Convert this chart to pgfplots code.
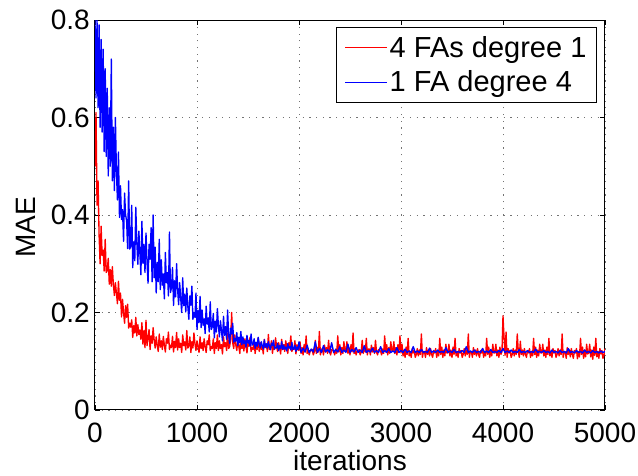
\documentclass[border=0pt]{standalone}
\usepackage{fontspec}
\setmainfont{Liberation Sans}
\usepackage{pgfplots}
\pgfplotsset{compat=1.18}
\begin{document}
\begin{tikzpicture}
\useasboundingbox (-95pt,-66pt) rectangle (543pt,410pt);
\begin{axis}[
  at={(0pt,0pt)}, anchor=south west,
  scale only axis, width=510pt, height=390pt,
  xmin=0, xmax=5000, ymin=0, ymax=0.8,
  xtick={0,1000,2000,3000,4000,5000}, ytick={0,0.2,0.4,0.6,0.8},
  scaled ticks=false,
  /pgf/number format/1000 sep={},
  /pgf/number format/assume math mode=true,
  tick align=inside, major tick length=5pt,
  tick style={black, line width=0.8pt},
  axis line style={line width=1pt},
  grid=major,
  major grid style={black!55, line width=0.8pt, dash pattern=on 1.2pt off 5.5pt},
  ticklabel style={font=\fontsize{28}{32}\selectfont, inner sep=0pt},
  xticklabel style={anchor=north, yshift=-13pt},
  yticklabel style={anchor=east, xshift=-5pt},
  label style={font=\fontsize{28}{32}\selectfont},
  xlabel={iterations}, ylabel={MAE},
  xlabel style={at={(axis description cs:0.5,-0.154)}, anchor=base, inner sep=0pt},
  ylabel style={at={(axis description cs:-0.135,0.469)}, anchor=center},
  legend style={at={(axis description cs:0.984,0.982)}, anchor=north east, draw=black, line width=0.8pt,
    font=\fontsize{29}{33}\selectfont, inner xsep=8pt, inner ysep=5pt, row sep=4.5pt,
    nodes={inner xsep=2pt, inner ysep=3.8pt}, cells={anchor=west}},
  legend image code/.code={\draw[#1, line width=1pt] (0pt,0pt) -- (42pt,0pt);},
]
\addplot[draw=red, line width=1.35pt, line join=round] coordinates {
(0,0.50) (10,0.61) (20,0.42) (30,0.47) (40,0.36) (50,0.30) (60,0.377) (70,0.317) (80,0.328) (90,0.285)
(100,0.35) (110,0.282) (120,0.286) (130,0.311) (140,0.258) (150,0.288) (160,0.254) (170,0.294) (180,0.258) (190,0.235)
(200,0.261) (210,0.240) (220,0.218) (230,0.264) (240,0.225) (250,0.240) (260,0.191) (270,0.227) (280,0.20) (290,0.178)
(300,0.214) (310,0.19) (320,0.217) (330,0.168) (340,0.178) (350,0.17) (360,0.185) (370,0.149) (380,0.173) (390,0.158)
(400,0.19) (410,0.152) (420,0.175) (430,0.155) (440,0.164) (450,0.145) (460,0.179) (470,0.135) (480,0.163) (490,0.128)
(500,0.184) (510,0.132) (520,0.147) (530,0.165) (540,0.124) (550,0.152) (560,0.137) (570,0.169) (580,0.143) (590,0.127)
(600,0.15) (610,0.133) (620,0.12) (630,0.156) (640,0.129) (650,0.142) (660,0.124) (670,0.151) (680,0.133) (690,0.119)
(700,0.146) (710,0.137) (720,0.16) (730,0.124) (740,0.133) (750,0.128) (760,0.151) (770,0.119) (780,0.141) (790,0.128)
(800,0.159) (810,0.123) (820,0.146) (830,0.128) (840,0.137) (850,0.118) (860,0.154) (870,0.132) (880,0.14) (890,0.123)
(900,0.163) (910,0.127) (920,0.131) (930,0.15) (940,0.118) (950,0.14) (960,0.127) (970,0.158) (980,0.136) (990,0.122)
(1000,0.142) (1010,0.130) (1020,0.118) (1030,0.150) (1040,0.126) (1050,0.138) (1060,0.122) (1070,0.146) (1080,0.130) (1090,0.118)
(1100,0.142) (1110,0.134) (1120,0.154) (1130,0.122) (1140,0.130) (1150,0.126) (1160,0.146) (1170,0.116) (1180,0.138) (1190,0.126)
(1200,0.154) (1210,0.122) (1220,0.142) (1230,0.126) (1240,0.134) (1250,0.115) (1260,0.150) (1270,0.130) (1280,0.138) (1290,0.122)
(1300,0.158) (1310,0.126) (1320,0.130) (1330,0.146) (1340,0.200) (1350,0.138) (1360,0.126) (1370,0.154) (1380,0.134) (1390,0.122)
(1400,0.142) (1410,0.130) (1420,0.116) (1430,0.150) (1440,0.126) (1450,0.138) (1460,0.121) (1470,0.146) (1480,0.130) (1490,0.117)
(1500,0.138) (1510,0.131) (1520,0.149) (1530,0.120) (1540,0.128) (1550,0.124) (1560,0.142) (1570,0.116) (1580,0.134) (1590,0.124)
(1600,0.148) (1610,0.120) (1620,0.138) (1630,0.124) (1640,0.131) (1650,0.115) (1660,0.145) (1670,0.128) (1680,0.134) (1690,0.120)
(1700,0.155) (1710,0.124) (1720,0.128) (1730,0.142) (1740,0.116) (1750,0.134) (1760,0.124) (1770,0.148) (1780,0.131) (1790,0.120)
(1800,0.138) (1810,0.128) (1820,0.115) (1830,0.145) (1840,0.124) (1850,0.134) (1860,0.120) (1870,0.142) (1880,0.128) (1890,0.116)
(1900,0.138) (1910,0.131) (1920,0.152) (1930,0.120) (1940,0.128) (1950,0.124) (1960,0.142) (1970,0.115) (1980,0.134) (1990,0.124)
(2000,0.122) (2010,0.140) (2020,0.116) (2030,0.128) (2040,0.113) (2050,0.134) (2060,0.119) (2070,0.152) (2080,0.116) (2090,0.125)
(2100,0.113) (2110,0.121) (2120,0.122) (2130,0.124) (2140,0.113) (2150,0.119) (2160,0.143) (2170,0.116) (2180,0.128) (2190,0.119)
(2200,0.161) (2210,0.113) (2220,0.125) (2230,0.125) (2240,0.113) (2250,0.133) (2260,0.119) (2270,0.128) (2280,0.116) (2290,0.143)
(2300,0.119) (2310,0.113) (2320,0.124) (2330,0.122) (2340,0.121) (2350,0.113) (2360,0.125) (2370,0.116) (2380,0.152) (2390,0.119)
(2400,0.134) (2410,0.113) (2420,0.128) (2430,0.116) (2440,0.140) (2450,0.122) (2460,0.122) (2470,0.140) (2480,0.116) (2490,0.128)
(2500,0.113) (2510,0.134) (2520,0.119) (2530,0.158) (2540,0.116) (2550,0.125) (2560,0.113) (2570,0.121) (2580,0.122) (2590,0.124)
(2600,0.113) (2610,0.119) (2620,0.143) (2630,0.116) (2640,0.128) (2650,0.119) (2660,0.147) (2670,0.113) (2680,0.125) (2690,0.125)
(2700,0.113) (2710,0.133) (2720,0.119) (2730,0.128) (2740,0.116) (2750,0.143) (2760,0.119) (2770,0.113) (2780,0.124) (2790,0.122)
(2800,0.121) (2810,0.113) (2820,0.125) (2830,0.116) (2840,0.152) (2850,0.119) (2860,0.134) (2870,0.113) (2880,0.128) (2890,0.116)
(2900,0.140) (2910,0.122) (2920,0.122) (2930,0.140) (2940,0.116) (2950,0.128) (2960,0.113) (2970,0.134) (2980,0.119) (2990,0.152)
(3000,0.117) (3010,0.135) (3020,0.111) (3030,0.123) (3040,0.108) (3050,0.129) (3060,0.114) (3070,0.147) (3080,0.111) (3090,0.120)
(3100,0.108) (3110,0.126) (3120,0.117) (3130,0.122) (3140,0.108) (3150,0.114) (3160,0.126) (3170,0.111) (3180,0.123) (3190,0.114)
(3200,0.156) (3210,0.108) (3220,0.120) (3230,0.120) (3240,0.108) (3250,0.128) (3260,0.114) (3270,0.123) (3280,0.111) (3290,0.126)
(3300,0.114) (3310,0.108) (3320,0.122) (3330,0.117) (3340,0.126) (3350,0.108) (3360,0.120) (3370,0.111) (3380,0.147) (3390,0.114)
(3400,0.129) (3410,0.108) (3420,0.123) (3430,0.111) (3440,0.135) (3450,0.117) (3460,0.117) (3470,0.135) (3480,0.111) (3490,0.123)
(3500,0.108) (3510,0.129) (3520,0.114) (3530,0.147) (3540,0.111) (3550,0.120) (3560,0.108) (3570,0.126) (3580,0.117) (3590,0.122)
(3600,0.108) (3610,0.114) (3620,0.126) (3630,0.111) (3640,0.123) (3650,0.114) (3660,0.156) (3670,0.108) (3680,0.120) (3690,0.120)
(3700,0.108) (3710,0.128) (3720,0.114) (3730,0.123) (3740,0.111) (3750,0.126) (3760,0.114) (3770,0.108) (3780,0.122) (3790,0.117)
(3800,0.126) (3810,0.108) (3820,0.120) (3830,0.111) (3840,0.147) (3850,0.114) (3860,0.129) (3870,0.108) (3880,0.123) (3890,0.111)
(3900,0.135) (3910,0.117) (3920,0.117) (3930,0.135) (3940,0.111) (3950,0.123) (3960,0.108) (3970,0.129) (3980,0.114) (3990,0.120)
(4000,0.193) (4010,0.150) (4020,0.112) (4030,0.160) (4040,0.108) (4050,0.126) (4060,0.117) (4070,0.122) (4080,0.108) (4090,0.114)
(4100,0.126) (4110,0.111) (4120,0.123) (4130,0.114) (4140,0.156) (4150,0.120) (4160,0.108) (4170,0.141) (4180,0.114) (4190,0.123)
(4200,0.111) (4210,0.126) (4220,0.114) (4230,0.108) (4240,0.122) (4250,0.117) (4260,0.126) (4270,0.108) (4280,0.120) (4290,0.111)
(4300,0.147) (4310,0.114) (4320,0.129) (4330,0.108) (4340,0.123) (4350,0.111) (4360,0.135) (4370,0.117) (4380,0.117) (4390,0.135)
(4400,0.111) (4410,0.123) (4420,0.108) (4430,0.129) (4440,0.114) (4450,0.147) (4460,0.111) (4470,0.120) (4480,0.108) (4490,0.126)
(4500,0.117) (4510,0.122) (4520,0.108) (4530,0.114) (4540,0.126) (4550,0.111) (4560,0.123) (4570,0.114) (4580,0.156) (4590,0.108)
(4600,0.120) (4610,0.120) (4620,0.106) (4630,0.128) (4640,0.114) (4650,0.123) (4660,0.109) (4670,0.126) (4680,0.114) (4690,0.106)
(4700,0.122) (4710,0.117) (4720,0.126) (4730,0.105) (4740,0.120) (4750,0.109) (4760,0.147) (4770,0.114) (4780,0.129) (4790,0.106)
(4800,0.123) (4810,0.109) (4820,0.135) (4830,0.115) (4840,0.117) (4850,0.135) (4860,0.109) (4870,0.123) (4880,0.104) (4890,0.129)
(4900,0.112) (4910,0.147) (4920,0.109) (4930,0.120) (4940,0.106) (4950,0.126) (4960,0.115) (4970,0.122) (4980,0.106) (4990,0.112)
(5000,0.126)
};
\addlegendentry{4 FAs degree 1}
\addplot[draw=blue, line width=1.35pt, line join=round] coordinates {
(0,0.80) (10,0.64) (20,0.80) (30,0.62) (40,0.79) (50,0.58) (60,0.76) (70,0.57) (80,0.74) (90,0.53)
(100,0.70) (110,0.52) (120,0.66) (130,0.48) (140,0.62) (150,0.50) (160,0.72) (170,0.47) (180,0.58) (190,0.45)
(200,0.60) (210,0.489) (220,0.431) (230,0.529) (240,0.395) (250,0.46) (260,0.391) (270,0.411) (280,0.346) (290,0.445)
(300,0.40) (310,0.388) (320,0.331) (330,0.47) (340,0.330) (350,0.336) (360,0.42) (370,0.292) (380,0.345) (390,0.306)
(400,0.416) (410,0.344) (420,0.299) (430,0.367) (440,0.322) (450,0.2775) (460,0.387) (470,0.301) (480,0.34) (490,0.282)
(500,0.363) (510,0.304) (520,0.26) (530,0.340) (540,0.309) (550,0.374) (560,0.263) (570,0.40) (580,0.271) (590,0.334)
(600,0.24) (610,0.303) (620,0.263) (630,0.350) (640,0.247) (650,0.308) (660,0.256) (670,0.279) (680,0.228) (690,0.323)
(700,0.261) (710,0.282) (720,0.234) (730,0.365) (740,0.241) (750,0.251) (760,0.292) (770,0.2145) (780,0.265) (790,0.232)
(800,0.30) (810,0.247) (820,0.216) (830,0.261) (840,0.230) (850,0.20) (860,0.271) (870,0.214) (880,0.238) (890,0.201)
(900,0.25) (910,0.213) (920,0.186) (930,0.234) (940,0.215) (950,0.254) (960,0.186) (970,0.200) (980,0.190) (990,0.24)
(1000,0.165) (1010,0.204) (1020,0.179) (1030,0.233) (1040,0.169) (1050,0.205) (1060,0.174) (1070,0.187) (1080,0.157) (1090,0.213)
(1100,0.176) (1110,0.189) (1120,0.160) (1130,0.222) (1140,0.165) (1150,0.171) (1160,0.198) (1170,0.148) (1180,0.182) (1190,0.160)
(1200,0.208) (1210,0.172) (1220,0.150) (1230,0.183) (1240,0.162) (1250,0.1415) (1260,0.192) (1270,0.153) (1280,0.171) (1290,0.145)
(1300,0.205) (1310,0.154) (1320,0.137) (1330,0.168) (1340,0.156) (1350,0.178) (1360,0.139) (1370,0.147) (1380,0.141) (1390,0.159)
(1400,0.132) (1410,0.149) (1420,0.138) (1430,0.161) (1440,0.134) (1450,0.150) (1460,0.136) (1470,0.142) (1480,0.1288) (1490,0.153)
(1500,0.137) (1510,0.143) (1520,0.131) (1530,0.156) (1540,0.133) (1550,0.135) (1560,0.146) (1570,0.1266) (1580,0.139) (1590,0.131)
(1600,0.149) (1610,0.136) (1620,0.128) (1630,0.140) (1640,0.132) (1650,0.125) (1660,0.144) (1670,0.129) (1680,0.136) (1690,0.127)
(1700,0.140) (1710,0.131) (1720,0.1236) (1730,0.137) (1740,0.132) (1750,0.143) (1760,0.125) (1770,0.129) (1780,0.127) (1790,0.137)
(1800,0.122) (1810,0.132) (1820,0.126) (1830,0.140) (1840,0.124) (1850,0.133) (1860,0.125) (1870,0.129) (1880,0.1212) (1890,0.136)
(1900,0.127) (1910,0.130) (1920,0.123) (1930,0.139) (1940,0.124) (1950,0.126) (1960,0.133) (1970,0.1203) (1980,0.129) (1990,0.124)
(2000,0.14) (2020,0.118) (2040,0.127) (2060,0.119) (2080,0.133) (2100,0.118) (2120,0.125) (2140,0.119) (2160,0.14) (2180,0.118)
(2200,0.126) (2220,0.118) (2240,0.132) (2260,0.119) (2280,0.124) (2300,0.118) (2320,0.138) (2340,0.118) (2360,0.124) (2380,0.119)
(2400,0.13) (2420,0.118) (2440,0.123) (2460,0.118) (2480,0.135) (2500,0.118) (2520,0.124) (2540,0.119) (2560,0.128) (2580,0.118)
(2600,0.123) (2620,0.118) (2640,0.132) (2660,0.118) (2680,0.122) (2700,0.119) (2720,0.127) (2740,0.118) (2760,0.122) (2780,0.118)
(2800,0.13) (2820,0.118) (2840,0.122) (2860,0.118) (2880,0.126) (2900,0.118) (2920,0.121) (2940,0.118) (2960,0.128) (2980,0.118)
(3000,0.122) (3020,0.118) (3040,0.125) (3060,0.118) (3080,0.121) (3100,0.118) (3120,0.13) (3140,0.118) (3160,0.121) (3180,0.118)
(3200,0.124) (3220,0.118) (3240,0.12) (3260,0.118) (3280,0.127) (3300,0.118) (3320,0.121) (3340,0.118) (3360,0.123) (3380,0.118)
(3400,0.12) (3420,0.118) (3440,0.128) (3460,0.118) (3480,0.121) (3500,0.118) (3520,0.124) (3540,0.118) (3560,0.12) (3580,0.118)
(3600,0.122) (3620,0.118) (3640,0.13) (3660,0.118) (3680,0.121) (3700,0.118) (3720,0.123) (3740,0.118) (3760,0.12) (3780,0.118)
(3800,0.126) (3820,0.118) (3840,0.121) (3860,0.118) (3880,0.124) (3900,0.118) (3920,0.12) (3940,0.118) (3960,0.122) (3980,0.118)
(4000,0.126) (4020,0.118) (4040,0.121) (4060,0.118) (4080,0.123) (4100,0.118) (4120,0.12) (4140,0.118) (4160,0.124) (4180,0.118)
(4200,0.12) (4220,0.118) (4240,0.122) (4260,0.118) (4280,0.12) (4300,0.118) (4320,0.125) (4340,0.118) (4360,0.12) (4380,0.118)
(4400,0.122) (4420,0.118) (4440,0.12) (4460,0.117) (4480,0.123) (4500,0.118) (4520,0.12) (4540,0.117) (4560,0.122) (4580,0.118)
(4600,0.12) (4620,0.117) (4640,0.126) (4660,0.118) (4680,0.12) (4700,0.117) (4720,0.122) (4740,0.118) (4760,0.12) (4780,0.117)
(4800,0.123) (4820,0.118) (4840,0.12) (4860,0.117) (4880,0.122) (4900,0.118) (4920,0.12) (4940,0.117) (4960,0.121) (4980,0.118)
(5000,0.12)
};
\addlegendentry{1 FA degree 4}
\end{axis}
\end{tikzpicture}
\end{document}
